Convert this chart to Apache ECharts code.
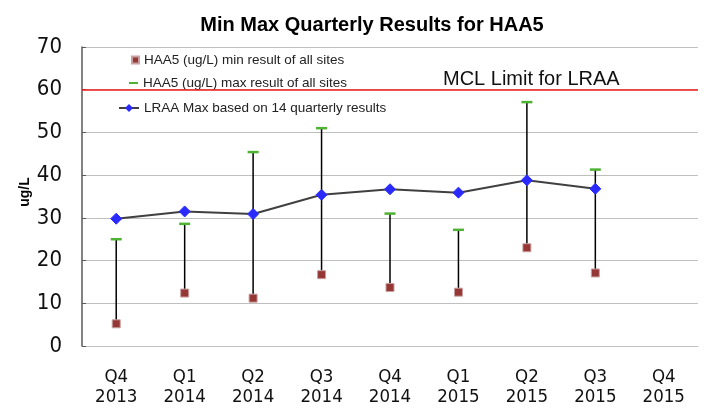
<!DOCTYPE html>
<html>
<head>
<meta charset="utf-8">
<script src="https://cdn.jsdelivr.net/npm/echarts@6/dist/echarts.min.js"></script>
<style>html,body{margin:0;padding:0;background:#fff}#c{width:715px;height:410px}</style>
</head>
<body>
<div id="c"></div>
<script>
var categories = ['Q4\n2013','Q1\n2014','Q2\n2014','Q3\n2014','Q4\n2014','Q1\n2015','Q2\n2015','Q3\n2015','Q4\n2015'];
var minValues = [5.2, 12.4, 11.2, 16.7, 13.7, 12.6, 23.0, 17.1, null];
var maxValues = [25.0, 28.6, 45.4, 51.0, 31.0, 27.2, 57.1, 41.3, null];
var lraaValues = [29.8, 31.5, 30.9, 35.4, 36.7, 35.9, 38.8, 36.8, null];
var mclLimit = 60;
var yTicks = [0, 10, 20, 30, 40, 50, 60, 70];
var nameMin = 'HAA5 (ug/L) min result of all sites';
var nameMax = 'HAA5 (ug/L) max result of all sites';
var nameLraa = 'LRAA Max based on 14 quarterly results';

var narrow = '"DejaVu Sans Condensed", "Liberation Sans", Arial';
var chart = echarts.init(document.getElementById('c'), null, {renderer: 'canvas'});
var rangeData = categories.map(function (c, i) { return [i, minValues[i], maxValues[i]]; })
  .filter(function (d) { return d[1] != null && d[2] != null; });

var legendText = {fontFamily: 'Liberation Sans, Arial', fontSize: 13.5, color: '#222'};
function mkLegend(name, iw, ih, top, icon) {
  var textStart = 143, gap = 5;
  return {
    orient: 'vertical', left: textStart - gap - iw, top: top, itemGap: 0, padding: 0,
    itemWidth: iw, itemHeight: ih, textStyle: legendText,
    data: [icon ? {name: name, icon: icon} : {name: name}]
  };
}

chart.setOption({
  animation: false,
  title: {
    text: 'Min Max Quarterly Results for HAA5',
    left: 367, top: 10, textAlign: 'center',
    textStyle: {fontFamily: 'Liberation Sans, Arial', fontWeight: 'bold', fontSize: 20, color: '#000'}
  },
  grid: {left: 82, right: 17, top: 47, bottom: 64},
  legend: [
    mkLegend(nameMin, 7, 7, 53, 'rect'),
    mkLegend(nameMax, 9, 2, 76, 'rect'),
    mkLegend(nameLraa, 20, 10, 101)
  ],
  xAxis: {
    type: 'category', data: categories, boundaryGap: true,
    axisLine: {show: true, lineStyle: {color: '#bfbfbf', width: 1}},
    axisTick: {show: false},
    axisLabel: {margin: 21, lineHeight: 20, fontSize: 18.5, color: '#111', fontFamily: narrow, interval: 0}
  },
  yAxis: {
    type: 'value', min: 0, max: 70, interval: 10,
    name: 'ug/L', nameLocation: 'middle', nameGap: 50, nameRotate: 90, nameMoveOverlap: false,
    nameTextStyle: {fontFamily: 'Liberation Sans, Arial', fontWeight: 'bold', fontSize: 14, color: '#000', padding: [0, 0, 0, 9]},
    axisLine: {show: true, lineStyle: {color: '#595959', width: 1.5}},
    axisTick: {show: true, length: 4, inside: true, lineStyle: {color: '#595959'}},
    axisLabel: {margin: 20, fontSize: 22, color: '#111', fontFamily: narrow,
      formatter: function (v) { return yTicks.indexOf(v) >= 0 ? String(v) : ''; }},
    splitLine: {show: true, lineStyle: {color: '#bfbfbf', width: 1}}
  },
  graphic: [{
    type: 'text', left: 443, top: 69,
    style: {text: 'MCL Limit for LRAA', font: '20px "Liberation Sans", Arial', fill: '#111'}
  }],
  series: [
    {
      type: 'custom', name: 'range', z: 2, silent: true,
      data: rangeData,
      renderItem: function (params, api) {
        var p1 = api.coord([api.value(0), api.value(1)]);
        var p2 = api.coord([api.value(0), api.value(2)]);
        return {type: 'line', shape: {x1: p1[0], y1: p1[1], x2: p2[0], y2: p2[1]},
          style: {stroke: '#000', lineWidth: 1.5}};
      },
      encode: {x: 0, y: [1, 2]},
      markLine: {
        silent: true, symbol: 'none', label: {show: false},
        lineStyle: {color: '#ee1c1c', width: 1.5, type: 'solid'},
        data: [{yAxis: mclLimit}]
      }
    },
    {
      type: 'scatter', name: nameMin, z: 4,
      data: minValues, symbol: 'rect', symbolSize: 8,
      itemStyle: {color: '#953735', opacity: 1, borderColor: '#c9a0a0', borderWidth: 1}
    },
    {
      type: 'scatter', name: nameMax, z: 4,
      data: maxValues, symbol: 'rect', symbolSize: [11, 2.5],
      itemStyle: {color: '#4eb233', opacity: 1}
    },
    {
      type: 'line', name: nameLraa, z: 5,
      data: lraaValues, symbol: 'diamond', symbolSize: 11, showSymbol: true,
      lineStyle: {color: '#404040', width: 2},
      itemStyle: {color: '#2a2aff', borderColor: '#2a2aff'}
    }
  ]
});
</script>
</body>
</html>
